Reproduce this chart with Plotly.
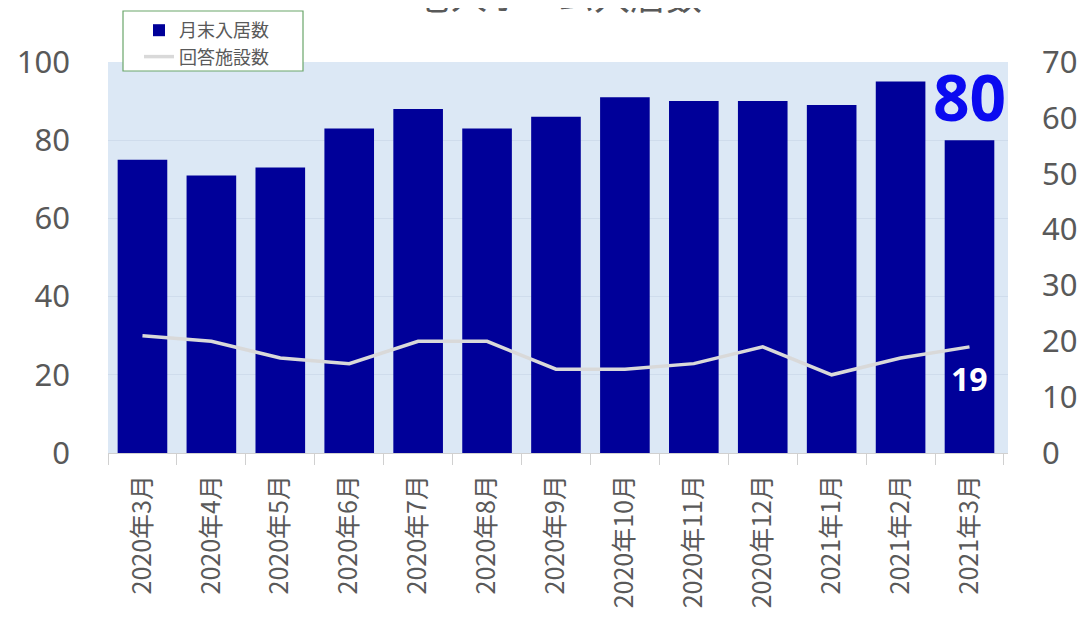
import plotly.graph_objects as go

categories = ["2020年3月", "2020年4月", "2020年5月", "2020年6月", "2020年7月", "2020年8月",
              "2020年9月", "2020年10月", "2020年11月", "2020年12月", "2021年1月", "2021年2月", "2021年3月"]
residents = [75, 71, 73, 83, 88, 83, 86, 91, 90, 90, 89, 95, 80]
facilities = [21, 20, 17, 16, 20, 20, 15, 15, 16, 19, 14, 17, 19]
bar_name = "月末入居数"
line_name = "回答施設数"
title_text = "老人ホーム入居数"

gray = "#595959"
fig = go.Figure()
fig.add_trace(go.Bar(x=categories, y=residents, name=bar_name, marker_color="#000099",
                     marker_line_width=0, yaxis="y"))
fig.add_trace(go.Scatter(x=categories, y=facilities, name=line_name, mode="lines",
                         line=dict(color="#d9d9d9", width=3.5), yaxis="y2"))

fig.add_annotation(x=categories[-1], y=residents[-1], yref="y", text="<b>%d</b>" % residents[-1],
                   showarrow=False, yanchor="middle", yshift=44,
                   font=dict(family="Noto Sans", size=64, color="#0a0af0"))
fig.add_annotation(x=categories[-1], y=facilities[-1], yref="y2", text="<b>%d</b>" % facilities[-1],
                   showarrow=False, yanchor="middle", yshift=-32,
                   font=dict(family="Noto Sans", size=32, color="white"))
fig.add_annotation(x=0.5, xref="paper", y=1.175, yref="paper", text=title_text, showarrow=False,
                   yanchor="middle", font=dict(family="Noto Sans CJK JP", size=36, color=gray))

# legend box
fig.add_shape(type="rect", xref="paper", yref="paper",
              x0=(123 - 108) / 900, x1=(303 - 108) / 900,
              y0=1 + (62 - 71) / 391, y1=1 + (62 - 11) / 391,
              fillcolor="white", line=dict(color="#6aa66a", width=1.2), layer="above")

fig.update_layout(
    width=1078, height=618,
    margin=dict(l=100, r=78, t=54, b=173, autoexpand=False),
    paper_bgcolor="white", plot_bgcolor="#dce8f5",
    bargap=0.28,
    showlegend=True,
    legend=dict(x=(139 - 108) / 900, y=1 + (62 - 12) / 391, xanchor="left", yanchor="top",
                bgcolor="rgba(0,0,0,0)", borderwidth=0,
                font=dict(family="Noto Sans CJK JP", size=18, color=gray),
                tracegroupgap=0, itemwidth=30),
    xaxis=dict(type="category", tickangle=-90, tickson="boundaries", ticks="outside",
               ticklen=11, tickcolor="#d0d0d0", showline=True, linecolor="#d0d0d0",
               showgrid=False, ticklabelstandoff=11, automargin=False,
               tickfont=dict(family="Noto Sans CJK JP", size=25, color=gray)),
    yaxis=dict(range=[0, 100], dtick=20, showgrid=True, gridcolor="#cfdcec", gridwidth=1,
               zeroline=False, showline=False, ticks="", ticklabelstandoff=37, automargin=False,
               tickfont=dict(family="Noto Sans", size=31, color=gray)),
    yaxis2=dict(range=[0, 70], dtick=10, overlaying="y", side="right", showgrid=False,
                zeroline=False, showline=False, ticks="", ticklabelstandoff=33, automargin=False,
                tickfont=dict(family="Noto Sans", size=31, color=gray)),
)

fig.write_html("out.html")
